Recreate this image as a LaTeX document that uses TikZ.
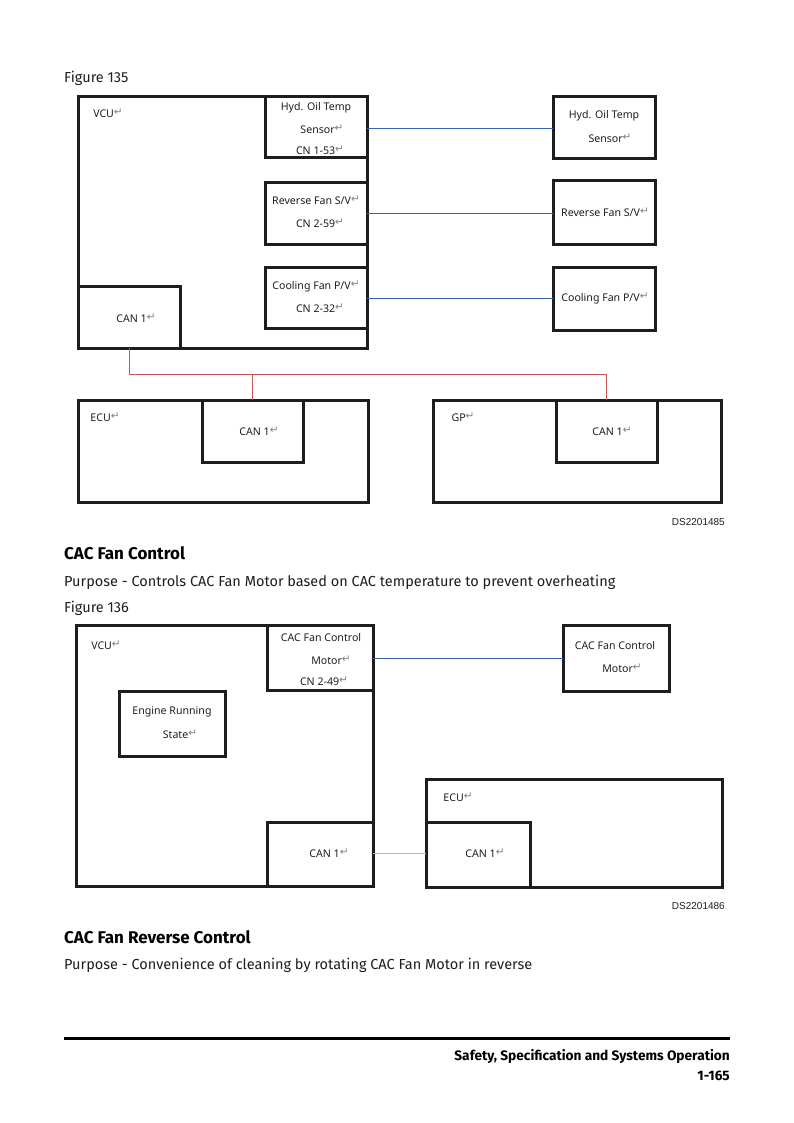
\documentclass[tikz,border=0pt]{standalone}
\usepackage{fontspec}
\setmainfont{Fira Sans}
\newfontfamily\labfont{Noto Sans}
\newfontfamily\dvfont{DejaVu Sans}
\newfontfamily\arfont{Liberation Sans}
\newcommand{\retmark}{{\dvfont\color{gray}\fontsize{10.5}{10}\selectfont\raisebox{2pt}{↵}}}
\definecolor{wireblue}{RGB}{60,100,180}
\definecolor{wirered}{RGB}{200,85,85}
\definecolor{wirepink}{RGB}{230,160,175}
\definecolor{ink}{RGB}{30,30,30}
\tikzset{
  box/.style={draw=ink, line width=3, inner sep=0, outer sep=0, anchor=north west},
  lbl/.style={inner sep=0, font=\labfont\fontsize{10.6}{10}\selectfont, text=ink},
  bluewire/.style={draw=wireblue, line width=1},
  redwire/.style={draw=wirered, line width=1},
  pinkwire/.style={draw=wirepink, line width=1},
  body/.style={inner sep=0, anchor=base west, font=\fontsize{14.5}{15}\selectfont, text=ink},
  head/.style={inner sep=0, anchor=base west, font=\bfseries\fontsize{17}{18}\selectfont, text=black},
  dsid/.style={inner sep=0, anchor=base east, font=\arfont\fontsize{10}{10}\selectfont, text=ink},
  foot/.style={inner sep=0, anchor=base east, font=\bfseries\fontsize{13.7}{14}\selectfont, text=black},
}
\begin{document}
\begin{tikzpicture}[x=1pt,y=-1pt]
\useasboundingbox (0,0) rectangle (794,1123);
\fill[white] (0,0) rectangle (794,1123);

% ---------- Figure 135 ----------
\node[body] (f135) at (64,83) {Figure 135};

\node[box, minimum width=289, minimum height=251] (vcu) at (78,97) {};
\node[box, minimum width=102, minimum height=61] (hyd) at (265,97) {};
\node[box, minimum width=102, minimum height=61] (rev) at (265,183) {};
\node[box, minimum width=102, minimum height=61] (cool) at (265,267) {};
\node[box, minimum width=102, minimum height=62] (vcan) at (78,286) {};

\node[box, minimum width=102, minimum height=62] (hydR) at (553,97) {};
\node[box, minimum width=102, minimum height=63] (revR) at (553,181) {};
\node[box, minimum width=102, minimum height=63] (coolR) at (553,267) {};

\node[box, minimum width=290, minimum height=102] (ecu) at (78,400) {};
\node[box, minimum width=101, minimum height=62] (ecan) at (202,400) {};
\node[box, minimum width=288, minimum height=102] (gp) at (433,400) {};
\node[box, minimum width=101, minimum height=62] (gcan) at (556,400) {};

\node[lbl] (tvcu) at (108,113) {VCU\retmark};
\node[lbl] (thyd1) at (316,108) {Hyd. Oil Temp};
\node[lbl] (thyd2) at (322,129) {Sensor\retmark};
\node[lbl] (thyd3) at (320,150) {CN 1-53\retmark};
\node[lbl] (trev1) at (316,200) {Reverse Fan S/V\retmark};
\node[lbl] (trev2) at (320,223) {CN 2-59\retmark};
\node[lbl] (tcool1) at (316,286) {Cooling Fan P/V\retmark};
\node[lbl] (tcool2) at (320,308) {CN 2-32\retmark};
\node[lbl] (tvcan) at (136,318) {CAN 1\retmark};

\node[lbl] (thydR1) at (604,116) {Hyd. Oil Temp};
\node[lbl] (thydR2) at (610,138) {Sensor\retmark};
\node[lbl] (trevR) at (605,212) {Reverse Fan S/V\retmark};
\node[lbl] (tcoolR) at (605,298) {Cooling Fan P/V\retmark};

\node[lbl] (tecu) at (105,417) {ECU\retmark};
\node[lbl] (tecan) at (259,431) {CAN 1\retmark};
\node[lbl] (tgp) at (463,417) {GP\retmark};
\node[lbl] (tgcan) at (612,431) {CAN 1\retmark};

\draw[bluewire] (hyd.east |- 0,128.5) coordinate (w1) -- (hydR.west |- w1);
\draw[bluewire] (rev.east |- 0,213.5) coordinate (w2) -- (revR.west |- w2);
\draw[bluewire] (cool.east |- 0,298.5) coordinate (w3) -- (coolR.west |- w3);

\coordinate (bus) at (0,374.5);
\draw[redwire] (vcan.south) -- (vcan.south |- bus) -- (gcan.north |- bus) -- (gcan.north);
\draw[redwire] (ecan.north |- bus) -- (ecan.north);

\node[dsid] (ds1) at (725,525) {DS2201485};

% ---------- text ----------
\node[head] (h1) at (64,559) {CAC Fan Control};
\node[body] (p1) at (64,586) {Purpose - Controls CAC Fan Motor based on CAC temperature to prevent overheating};
\node[body] (f136) at (64,612) {Figure 136};

% ---------- Figure 136 ----------
\node[box, minimum width=297, minimum height=261] (vcu2) at (76,625) {};
\node[box, minimum width=106, minimum height=65] (cacm) at (267,625) {};
\node[box, minimum width=106, minimum height=65] (eng) at (119,691) {};
\node[box, minimum width=106, minimum height=64] (vcan2) at (267,822) {};
\node[box, minimum width=106, minimum height=66] (cacR) at (563,625) {};
\node[box, minimum width=296, minimum height=108] (ecu2) at (426,779) {};
\node[box, minimum width=104, minimum height=65] (ecan2) at (426,822) {};

\node[lbl] (tvcu2) at (106,645) {VCU\retmark};
\node[lbl] (tcac1) at (321,638) {CAC Fan Control};
\node[lbl] (tcac2) at (331,660) {Motor\retmark};
\node[lbl] (tcac3) at (324,681) {CN 2-49\retmark};
\node[lbl] (teng1) at (172,712) {Engine Running};
\node[lbl] (teng2) at (180,734) {State\retmark};
\node[lbl] (tvcan2) at (329,853) {CAN 1\retmark};
\node[lbl] (tcacR1) at (615,646) {CAC Fan Control};
\node[lbl] (tcacR2) at (622,668) {Motor\retmark};
\node[lbl] (tecu2) at (458,797) {ECU\retmark};
\node[lbl] (tecan2) at (485,853) {CAN 1\retmark};

\draw[bluewire] (cacm.east |- 0,658.5) coordinate (c1) -- (cacR.west |- c1);
\draw[pinkwire] (vcan2.east |- 0,853.5) coordinate (c2) -- (ecan2.west |- c2);

\node[dsid] (ds2) at (725,909) {DS2201486};

% ---------- text ----------
\node[head] (h2) at (64,943) {CAC Fan Reverse Control};
\node[body] (p2) at (64,969) {Purpose - Convenience of cleaning by rotating CAC Fan Motor in reverse};

\draw[line width=3, draw=black] (64,1038) coordinate (r1) -- (730,1038) coordinate (r2);
\node[foot] (ft1) at (730,1060) {Safety, Specification and Systems Operation};
\node[foot] (ft2) at (730,1080) {1-165};
\end{tikzpicture}
\end{document}
